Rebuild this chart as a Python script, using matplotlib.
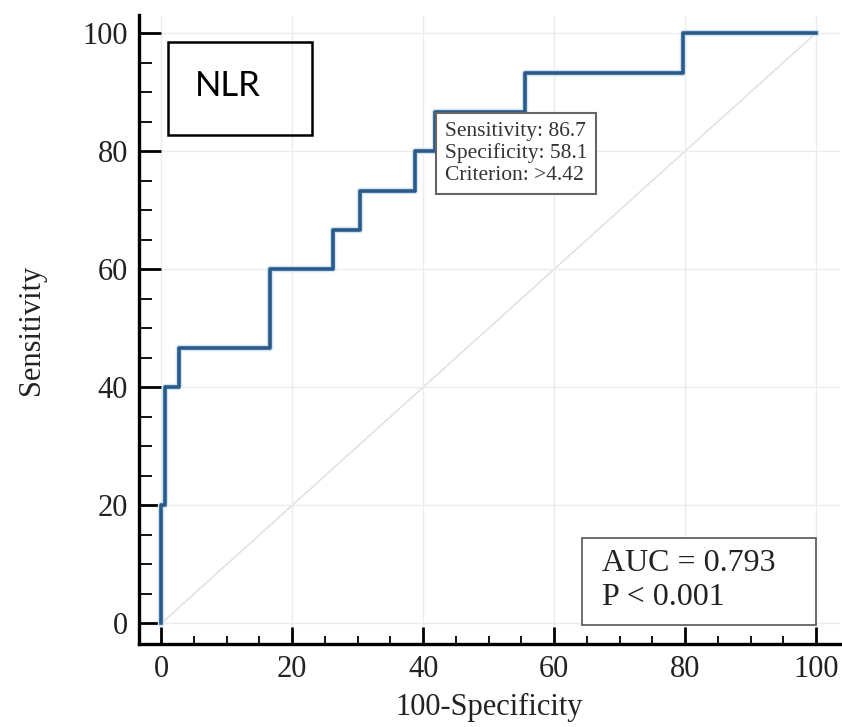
import numpy as np
import matplotlib.pyplot as plt
from matplotlib.patches import Rectangle
from matplotlib.ticker import MultipleLocator

# ROC corner points: at each 100-specificity value the curve rises to sensitivity
fpr = [0, 0, 0.6, 2.7, 16.6, 26.3, 30.4, 38.8, 41.8, 55.6, 79.7, 100]
tpr = [0, 20, 40, 46.7, 60, 66.7, 73.3, 80, 86.7, 93.3, 100, 100]
diag = [0, 100]

major_ticks = [0, 20, 40, 60, 80, 100]

serif = "Liberation Serif"

fig = plt.figure(figsize=(8.42, 7.27), dpi=100)
ax = fig.add_axes([0.165, 0.114, 0.833, 0.865])

# grid + reference diagonal
ax.grid(True, which="major", color="#ececec", linewidth=1.0, zorder=0)
ax.plot(diag, diag, color="#e2dcdc", linewidth=1.0, zorder=1)

# ROC curve with a faint halo
ax.plot(fpr, tpr, drawstyle="steps-post", color="#cfe3f3", linewidth=4.6, zorder=2)
ax.plot(fpr, tpr, drawstyle="steps-post", color="#2c5a88", linewidth=2.6, zorder=3)

ax.set_xlim(-3.4, 103.7)
ax.set_ylim(-3.5, 103)

for side in ["top", "right"]:
    ax.spines[side].set_visible(False)
for side in ["left", "bottom"]:
    ax.spines[side].set_linewidth(2.4)

ax.set_xticks(major_ticks)
ax.set_yticks(major_ticks)
ax.xaxis.set_minor_locator(MultipleLocator(5))
ax.yaxis.set_minor_locator(MultipleLocator(5))
ax.tick_params(axis="y", which="major", direction="in", length=16, width=2.0, pad=8)
ax.tick_params(axis="y", which="minor", direction="in", length=9, width=1.3)
ax.tick_params(axis="x", which="major", direction="in", length=12, width=2.0, pad=8)
ax.tick_params(axis="x", which="minor", direction="in", length=6, width=1.3)
for lab in ax.get_xticklabels() + ax.get_yticklabels():
    lab.set_fontfamily(serif)
    lab.set_fontsize(22)
    lab.set_color("#222222")

ax.set_xlabel("100-Specificity", fontfamily=serif, fontsize=22, color="#222222", labelpad=6)
ax.set_ylabel("Sensitivity", fontfamily=serif, fontsize=22, color="#222222", labelpad=26)

# NLR label box
ax.add_patch(Rectangle((1.1, 82.7), 21.9, 15.8, fill=False, edgecolor="black",
                       linewidth=1.8, zorder=4))
ax.text(10.2, 91.0, "NLR", fontfamily="Lato", fontsize=25, ha="center", va="center",
        color="black", zorder=5)

# cut-off box
ax.text(43.3, 79.6, "Sensitivity: 86.7\nSpecificity: 58.1\nCriterion: >4.42",
        fontfamily=serif, fontsize=15.5, color="#333333", ha="left", va="center",
        linespacing=1.2, zorder=6,
        bbox=dict(boxstyle="square,pad=0.4", facecolor="white", edgecolor="#666666",
                  linewidth=1.5))

# AUC box
ax.add_patch(Rectangle((64.3, -0.2), 35.7, 14.7, facecolor="white", edgecolor="#555555",
                       linewidth=1.2, zorder=6))
ax.text(67.3, 10.2, "AUC = 0.793", fontfamily=serif, fontsize=23, color="#222222",
        ha="left", va="center", zorder=7)
ax.text(67.3, 4.4, "P < 0.001", fontfamily=serif, fontsize=23, color="#222222",
        ha="left", va="center", zorder=7)

fig.savefig("out.png", dpi=100, facecolor="white")
